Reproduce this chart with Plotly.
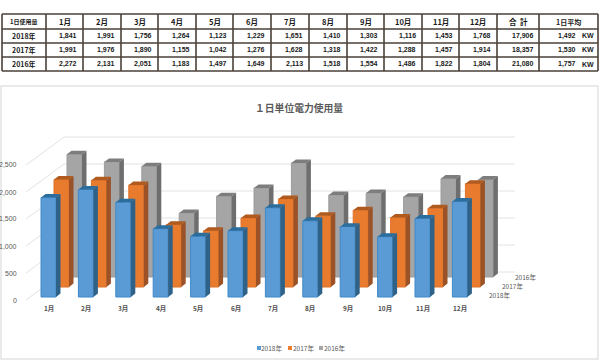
import plotly.graph_objects as go

W, H = 600, 360
months = ["1月","2月","3月","4月","5月","6月","7月","8月","9月","10月","11月","12月"]
v2018 = [1841,1991,1756,1264,1123,1229,1651,1410,1303,1116,1453,1768]
v2017 = [1991,1976,1890,1155,1042,1276,1628,1318,1422,1288,1457,1914]
v2016 = [2272,2131,2051,1183,1497,1649,2113,1518,1554,1486,1822,1804]
totals = ["17,906","18,357","21,080"]
daily = ["1,492","1,530","1,757"]
years = ["2018年","2017年","2016年"]
y_ticks = [0,500,1000,1500,2000,2500]

PX_PER_MONTH = 37.4
PX_PER_UNIT = 0.054
X0 = 48.5   # centre of first blue bar
DEPTH_X, DEPTH_Y = 4.5, 3.5
BAR_PX = 15
CJK = "Noto Sans CJK JP"
LAT = "Liberation Sans"

fig = go.Figure()

def axes(dx, base_px):
    xr = [(0 - (X0 + dx)) / PX_PER_MONTH, (W - (X0 + dx)) / PX_PER_MONTH]
    yr = [-(H - base_px) / PX_PER_UNIT, base_px / PX_PER_UNIT]
    return (dict(range=xr, domain=[0,1], visible=False, fixedrange=True),
            dict(range=yr, domain=[0,1], visible=False, fixedrange=True))

# draw order: gray at back, blue at front
series = [
    ("2016年", v2016, "#A5A5A5", "#9C9C9C", "#6E6E6E", "#7D7D7D", 26, 277, "", ""),
    ("2017年", v2017, "#E97B2E", "#DD7228", "#9A5226", "#B05A1E", 13, 287, "2", "2"),
    ("2018年", v2018, "#5B9BD5", "#3F89C8", "#2F6289", "#2B6E9E", 0, 297, "3", "3"),
]
dxm = DEPTH_X / PX_PER_MONTH
dyv = DEPTH_Y / PX_PER_UNIT
hw = BAR_PX / 2 / PX_PER_MONTH
for name, vals, front, edge, side, top, dx, base, xs, ys in series:
    xa, ya = axes(dx, base)
    fig.layout["xaxis"+xs] = xa
    fig.layout["yaxis"+ys] = ya
    if xs:
        fig.layout["xaxis"+xs].overlaying = "x"
        fig.layout["yaxis"+ys].overlaying = "y"
    xref, yref = "x"+xs, "y"+ys
    idx = list(range(len(months)))
    fig.add_trace(go.Bar(x=idx, y=vals, name=name, width=2*hw, xaxis=xref, yaxis=yref,
                         marker=dict(color=front, line=dict(color=edge, width=1)), showlegend=False))
    sx, sy, tx, ty = [], [], [], []
    for i, v in zip(idx, vals):
        r = i + hw; l = i - hw
        sx += [r, r+dxm, r+dxm, r, r, None]
        sy += [0, dyv, v+dyv, v, 0, None]
        tx += [l, l+dxm, r+dxm, r, l, None]
        ty += [v, v+dyv, v+dyv, v, v, None]
    fig.add_trace(go.Scatter(x=sx, y=sy, xaxis=xref, yaxis=yref, mode="lines", fill="toself",
                             fillcolor=side, line=dict(width=0, color=side), showlegend=False, hoverinfo="skip"))
    fig.add_trace(go.Scatter(x=tx, y=ty, xaxis=xref, yaxis=yref, mode="lines", fill="toself",
                             fillcolor=top, line=dict(width=0, color=top), showlegend=False, hoverinfo="skip"))

def fx(px): return px / W
def fy(px): return 1 - px / H
def py(v, base): return fy(base - v*PX_PER_UNIT)

shapes = [dict(type="rect", xref="paper", yref="paper", x0=fx(1), x1=fx(598), y0=fy(359), y1=fy(86),
               line=dict(color="#E4E4E4", width=1.5), fillcolor="white", layer="below")]
for v in y_ticks:
    shapes.append(dict(type="line", xref="paper", yref="paper", layer="below",
                       x0=fx(26), x1=fx(64), y0=py(v,300), y1=py(v,272),
                       line=dict(color="#E2E2E2", width=1)))
    shapes.append(dict(type="line", xref="paper", yref="paper", layer="below",
                       x0=fx(64), x1=fx(515), y0=py(v,272), y1=py(v,272),
                       line=dict(color="#E2E2E2", width=1)))

annots = []
def text(x, y, s, size, color, family=CJK, anchor="center", xref="paper", weight=400):
    annots.append(dict(xref=xref, yref="paper", x=x, y=fy(y), text=s, showarrow=False,
                       xanchor=anchor, yanchor="middle", borderpad=0,
                       font=dict(size=size, color=color, family=family, weight=weight)))

for v in y_ticks:
    annots.append(dict(xref="paper", yref="paper", x=fx(17.5), y=py(v,300), text=f"{v:,}", showarrow=False,
                       xanchor="right", yanchor="middle", borderpad=0,
                       font=dict(size=7, color="#595959", family=LAT)))
for i, m in enumerate(months):
    text(i, 308, m, 6.5, "#505050", xref="x3", weight=700)
for name, px, pyy in [("2016年",525,277),("2017年",512,286),("2018年",499,295)]:
    text(fx(px), pyy, name, 6.5, "#595959")
text(fx(299), 108, "１日単位電力使用量", 9.8, "#5A5A5A", weight=700)

# legend drawn as small keys with text
for name, col, key_x, text_x in [("2018年","#5B9BD5",259,271.5),("2017年","#ED7D31",290,303),("2016年","#A5A5A5",321,334.5)]:
    shapes.append(dict(type="rect", xref="paper", yref="paper", x0=fx(key_x-2), x1=fx(key_x+2),
                       y0=fy(350), y1=fy(346), fillcolor=col, line=dict(width=0)))
    text(fx(text_x), 348, name, 6.5, "#595959")

# table rules and cells
edges = [2,46,83,121,158,196,233,271,309,347,384,422,459,497,539,598]
rules = [14,29,43,57,71]
LINE = "#4A4038"
for i, e in enumerate(edges):
    shapes.append(dict(type="line", xref="paper", yref="paper", x0=fx(e), x1=fx(e), y0=fy(rules[0]), y1=fy(rules[-1]),
                       line=dict(color=LINE, width=1.6)))
for r in rules:
    shapes.append(dict(type="line", xref="paper", yref="paper", x0=fx(edges[0]), x1=fx(edges[-1]), y0=fy(r), y1=fy(r),
                       line=dict(color=LINE, width=1.6)))
INK = "#1A1A1A"
headers = ["1日使用量"] + months + ["合  計","1日平均"]
hsize = [6] + [7.5]*12 + [7.5, 7]
for j, h in enumerate(headers):
    text(fx((edges[j]+edges[j+1])/2), 21.7, h, hsize[j], INK, weight=700)
rows = [v2018, v2017, v2016]
for r, vals in enumerate(rows):
    yc = (rules[r+1]+rules[r+2])/2
    text(fx(24), yc, years[r], 7, INK, weight=700)
    for j, v in enumerate(vals):
        text(fx(edges[j+2]-5.5), yc, f"{v:,}", 7, INK, LAT, "right", weight=700)
    text(fx(edges[14]-4), yc, totals[r], 7, INK, LAT, "right", weight=700)
    text(fx(577), yc, daily[r], 7, INK, LAT, "right", weight=700)
    text(fx(595), yc, "KW", 7, INK, LAT, "right", weight=700)

fig.layout.shapes = shapes
fig.layout.annotations = annots

fig.update_layout(
    width=W, height=H, margin=dict(l=0,r=0,t=0,b=0), paper_bgcolor="white", plot_bgcolor="rgba(0,0,0,0)",
    barmode="overlay", hovermode=False, showlegend=False,
)
fig.write_html("out.html", config=dict(displayModeBar=False),
               post_script="document.body.style.margin='0';document.body.style.overflow='hidden';")
